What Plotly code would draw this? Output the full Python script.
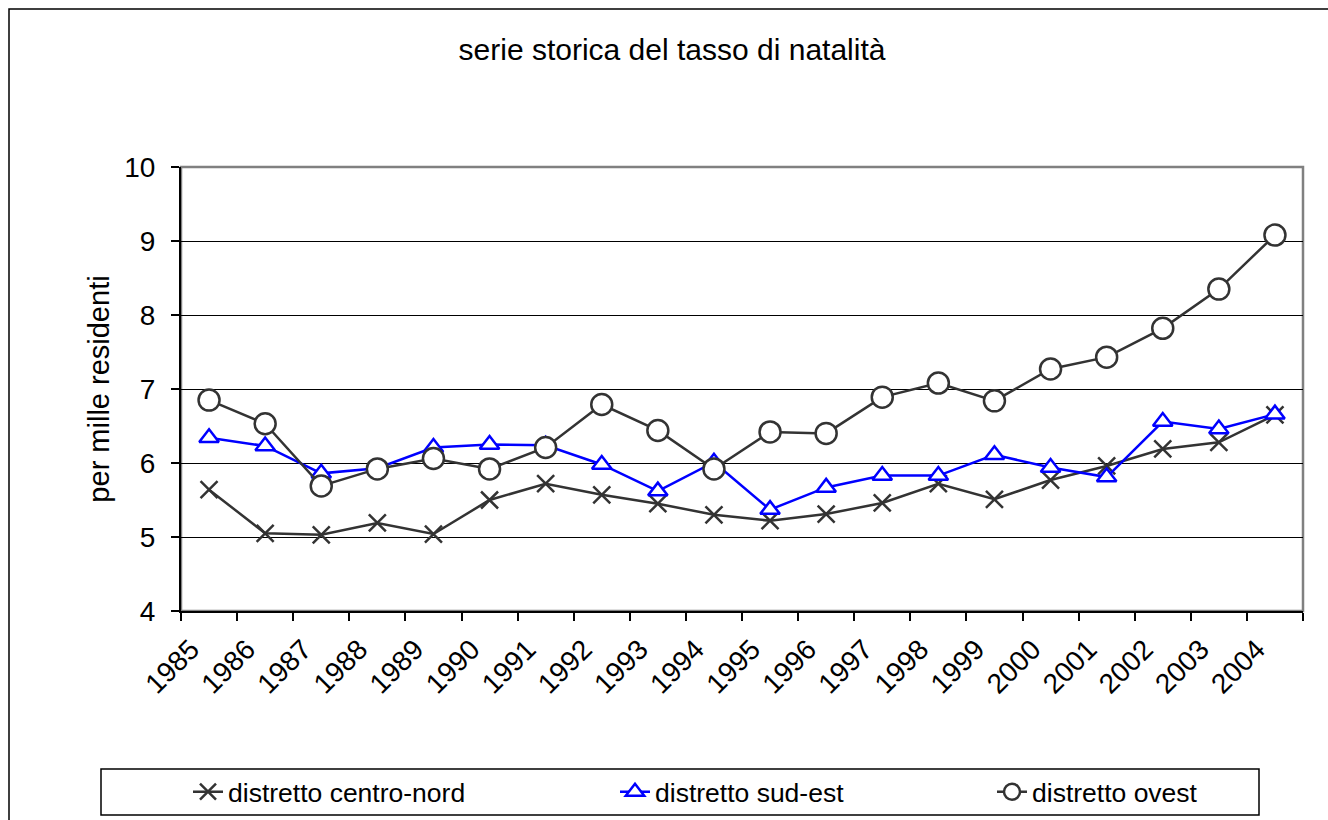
import plotly.graph_objects as go

years = [str(y) for y in range(1985, 2005)]
centro_nord = [5.64, 5.05, 5.03, 5.19, 5.04, 5.50, 5.72, 5.57, 5.45, 5.30,
               5.22, 5.31, 5.46, 5.72, 5.51, 5.77, 5.96, 6.19, 6.28, 6.65]
sud_est = [6.34, 6.23, 5.86, 5.93, 6.21, 6.25, 6.24, 5.98, 5.62, 6.01,
           5.37, 5.67, 5.83, 5.83, 6.11, 5.94, 5.81, 6.56, 6.46, 6.66]
ovest = [6.85, 6.53, 5.69, 5.92, 6.06, 5.92, 6.21, 6.79, 6.44, 5.92,
         6.42, 6.40, 6.89, 7.08, 6.84, 7.27, 7.43, 7.82, 8.35, 9.08]

FONT = "Arial, Liberation Sans, sans-serif"
DARK = "#333333"
BLUE = "#0000FF"

W, H = 1328, 820
L, R, T, B = 181, 1303, 167, 611


def px_x(p):
    return (p - L) / (R - L)


def px_y(p):
    return (B - p) / (B - T)


fig = go.Figure()
fig.add_trace(go.Scatter(
    x=years, y=centro_nord, mode="lines+markers", name="distretto centro-nord",
    line=dict(color=DARK, width=2.5),
    marker=dict(symbol="x-thin-open", size=17, color=DARK, line=dict(color=DARK, width=2.5)),
    legend="legend"))
fig.add_trace(go.Scatter(
    x=years, y=sud_est, mode="lines+markers", name="distretto sud-est",
    line=dict(color=BLUE, width=2.5),
    marker=dict(symbol="triangle-up", size=17, color="white", line=dict(color=BLUE, width=2.5)),
    legend="legend2"))
fig.add_trace(go.Scatter(
    x=years, y=ovest, mode="lines+markers", name="distretto ovest",
    line=dict(color=DARK, width=2.5),
    marker=dict(symbol="circle", size=21, color="white", line=dict(color=DARK, width=2.5)),
    legend="legend3"))

leg_common = dict(orientation="h", yref="container", xref="container",
                  yanchor="middle", xanchor="left", y=1 - 792 / H,
                  font=dict(family=FONT, size=26.5, color="#000000"),
                  bgcolor="rgba(0,0,0,0)", borderwidth=0)

fig.update_layout(
    width=W, height=H,
    margin=dict(l=L, r=W - R, t=T, b=H - B),
    paper_bgcolor="white", plot_bgcolor="white",
    font=dict(family=FONT, color="#000000"),
    title=dict(text="serie storica del tasso di natalità", x=672 / W, xanchor="center",
               xref="container", y=1 - 49 / H, yanchor="middle", yref="container",
               font=dict(family=FONT, size=30, color="#000000")),
    legend=dict(x=188 / W, **leg_common),
    legend2=dict(x=615 / W, **leg_common),
    legend3=dict(x=992 / W, **leg_common),
    showlegend=True,
    xaxis=dict(type="category", tickson="boundaries", ticks="outside", ticklen=8,
               tickcolor="#000000", tickwidth=1.5, tickangle=-45,
               ticklabelstandoff=9, ticklabelshift=-18,
               tickfont=dict(family=FONT, size=28, color="#000000"),
               showgrid=False, showline=True, linecolor="#000000", linewidth=1.5,
               range=[-0.5, 19.5], zeroline=False),
    yaxis=dict(range=[4, 10], dtick=1, tick0=4, ticks="outside", ticklen=8,
               tickcolor="#000000", tickwidth=1.5, ticklabelstandoff=10,
               tickfont=dict(family=FONT, size=28, color="#000000"),
               showgrid=True, gridcolor="#000000", gridwidth=1,
               showline=True, linecolor="#000000", linewidth=2, zeroline=False,
               title=dict(text="per mille residenti", standoff=6,
                          font=dict(family=FONT, size=29, color="#000000"))),
    shapes=[
        # plot area border
        dict(type="rect", xref="paper", yref="paper", x0=0, x1=1, y0=0, y1=1,
             line=dict(color="#808080", width=2.5), layer="below"),
        # outer chart frame
        dict(type="rect", xref="paper", yref="paper",
             x0=px_x(9), x1=px_x(1340), y0=px_y(840), y1=px_y(9),
             line=dict(color="#000000", width=1.5)),
        # legend box
        dict(type="rect", xref="paper", yref="paper",
             x0=px_x(101), x1=px_x(1259), y0=px_y(815), y1=px_y(769),
             line=dict(color="#000000", width=1.5)),
    ],
)

fig.write_html("out.html", config={"displayModeBar": False},
               post_script="document.body.style.margin='0';document.body.style.padding='0';")
